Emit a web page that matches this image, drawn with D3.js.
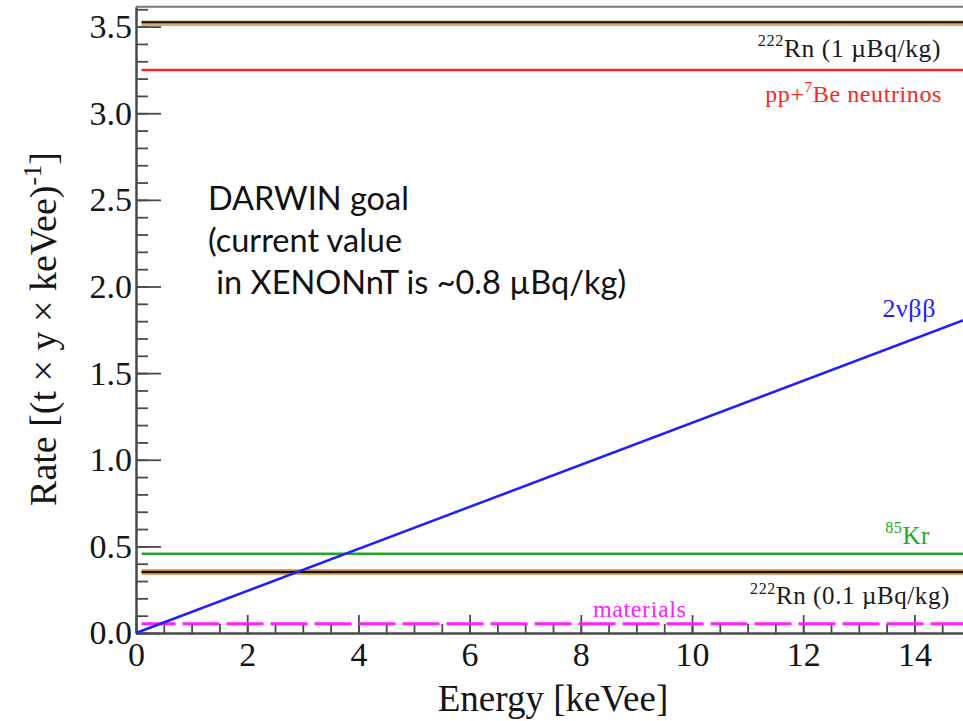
<!DOCTYPE html>
<html>
<head>
<meta charset="utf-8">
<script src="https://cdn.jsdelivr.net/npm/d3@7"></script>
<style>
  body { margin: 0; background: #fff; }
  svg { display: block; }
</style>
</head>
<body>
<svg id="chart" width="963" height="721"></svg>
<script>
// Axis ranges and ticks
const energyDomain = [0, 15];
const rateDomain = [0, 3.615];
const xTickValues = [0, 2, 4, 6, 8, 10, 12, 14];
const yTickValues = [0, 0.5, 1.0, 1.5, 2.0, 2.5, 3.0, 3.5];

// Flat background components, rate in (t × y × keVee)^-1
const flatKeys = ["rn222_1", "pp7be", "kr85", "rn222_01", "materials"];
const flatRates = [3.52, 3.25, 0.457, 0.352, 0.054];
const flatEnergy = [0.1, 15];

// 2νββ of 136Xe, rising with energy
const dbbEnergy = [0, 15];
const dbbRate = [0, 1.82];

const svg = d3.select("#chart");
const x = d3.scaleLinear().domain(energyDomain).range([136, 970]);
const y = d3.scaleLinear().domain(rateDomain).range([633, 6.7]);

const serif = "'Liberation Serif', 'Times New Roman', serif";
const axisColor = "#4a4a4a";

// ---- axes ----
const yMajor = d3.axisLeft(y).tickValues(yTickValues).tickSize(-25).tickSizeOuter(0)
  .tickPadding(4).tickFormat(d3.format(".1f"));
const yMinor = d3.axisLeft(y).tickValues(d3.range(0, 3.61, 0.1)).tickSize(-12)
  .tickSizeOuter(0).tickFormat("");
const xMajor = d3.axisBottom(x).tickValues(xTickValues).tickSize(-18).tickSizeOuter(0)
  .tickPadding(9).tickFormat(d3.format("d"));
const xMinor = d3.axisBottom(x).tickValues(d3.range(0, 15.01, 0.5)).tickSize(-9)
  .tickSizeOuter(0).tickFormat("");

function styleAxis(g) {
  g.selectAll("path.domain").attr("stroke", axisColor).attr("stroke-width", 2);
  g.selectAll(".tick line").attr("stroke", axisColor).attr("stroke-width", 1.8);
  g.selectAll(".tick text").attr("fill", "#151515")
    .style("font-family", serif).style("font-size", "34px");
}

svg.append("g").attr("transform", `translate(${x(0)},0)`).call(yMinor).call(styleAxis);
svg.append("g").attr("transform", `translate(${x(0)},0)`).call(yMajor).call(styleAxis);
svg.append("g").attr("transform", `translate(0,${y(0)})`).call(xMinor).call(styleAxis);
svg.append("g").attr("transform", `translate(0,${y(0)})`).call(xMajor).call(styleAxis);

// top frame
svg.append("line")
  .attr("x1", x(0)).attr("x2", x(15)).attr("y1", y(rateDomain[1])).attr("y2", y(rateDomain[1]))
  .attr("stroke", "#777").attr("stroke-width", 2);

// axis titles
svg.append("text")
  .attr("x", 553).attr("y", 711).attr("text-anchor", "middle")
  .style("font-family", serif).style("font-size", "37px").attr("fill", "#151515")
  .text("Energy [keVee]");

const yTitle = svg.append("text")
  .attr("transform", "translate(56,329) rotate(-90)")
  .attr("text-anchor", "middle")
  .style("font-family", serif).style("font-size", "38px").attr("fill", "#151515");
yTitle.append("tspan").text("Rate [(t × y × keVee)");
yTitle.append("tspan").attr("dy", -15).style("font-size", "25px").text("-1");
yTitle.append("tspan").attr("dy", 15).text("]");

// ---- data lines ----
const line = d3.line().x(d => x(d[0])).y(d => y(d[1]));
const flatPts = r => flatEnergy.map(e => [e, r]);

const rate = k => flatRates[flatKeys.indexOf(k)];

// 222Rn bands: orange under black
[["rn222_1", "#d8ac6c"], ["rn222_01", "#c98a2e"]].forEach(([k, c]) => {
  svg.append("path").attr("d", line(flatPts(rate(k))))
    .attr("fill", "none").attr("stroke", c).attr("stroke-width", 5.5);
  svg.append("path").attr("d", line(flatPts(rate(k))))
    .attr("fill", "none").attr("stroke", "#111").attr("stroke-width", 2)
    .attr("transform", k === "rn222_1" ? "translate(0,-1)" : null);
});

svg.append("path").attr("d", line(flatPts(rate("pp7be"))))
  .attr("fill", "none").attr("stroke", "#ff2424").attr("stroke-width", 2.5);
svg.append("path").attr("d", line(flatPts(rate("kr85"))))
  .attr("fill", "none").attr("stroke", "#24a824").attr("stroke-width", 2.5);
svg.append("path").attr("d", line(flatPts(rate("materials"))))
  .attr("fill", "none").attr("stroke", "#ff22ff").attr("stroke-width", 3)
  .attr("stroke-dasharray", "37,7").attr("stroke-dashoffset", 3);
svg.append("path").attr("d", line(dbbEnergy.map((e, i) => [e, dbbRate[i]])))
  .attr("fill", "none").attr("stroke", "#2020ff").attr("stroke-width", 2.5);

// ---- line labels ----
function richLabel(parts, px, py, color, size, anchor) {
  const t = svg.append("text")
    .attr("x", px).attr("y", py).attr("text-anchor", anchor || "end")
    .style("font-family", serif).style("font-size", size + "px")
    .style("letter-spacing", "0.6px").attr("fill", color);
  let raised = false;
  parts.forEach(p => {
    const s = t.append("tspan").text(p.t);
    if (p.sup && !raised) { s.attr("dy", -size * 0.42).style("font-size", (size * 0.64) + "px"); raised = true; }
    else if (!p.sup && raised) { s.attr("dy", size * 0.42); raised = false; }
  });
}

richLabel([{ t: "222", sup: true }, { t: "Rn (1 µBq/kg)" }], 941, y(rate("rn222_1")) + 34, "#1a1a1a", 25.5);
richLabel([{ t: "pp+" }, { t: "7", sup: true }, { t: "Be neutrinos" }], 942, y(rate("pp7be")) + 32, "#ff2424", 24);
richLabel([{ t: "85", sup: true }, { t: "Kr" }], 930, y(rate("kr85")) - 10, "#24a824", 25);
richLabel([{ t: "222", sup: true }, { t: "Rn (0.1 µBq/kg)" }], 950, y(rate("rn222_01")) + 32, "#1a1a1a", 25);
richLabel([{ t: "materials" }], 593, y(rate("materials")) - 7, "#ff22ff", 24, "start");
richLabel([{ t: "2νββ" }], 936, 317, "#2020ff", 26);

// ---- note ----
const note = svg.append("text")
  .style("font-family", "Lato, 'Open Sans', sans-serif").style("font-size", "32.5px")
  .attr("fill", "#111");
["DARWIN goal", "(current value", "\u00a0in XENONnT is ~0.8 µBq/kg)"].forEach((s, i) => {
  note.append("tspan").attr("x", 208).attr("y", 210 + i * 42).text(s);
});
</script>
</body>
</html>
